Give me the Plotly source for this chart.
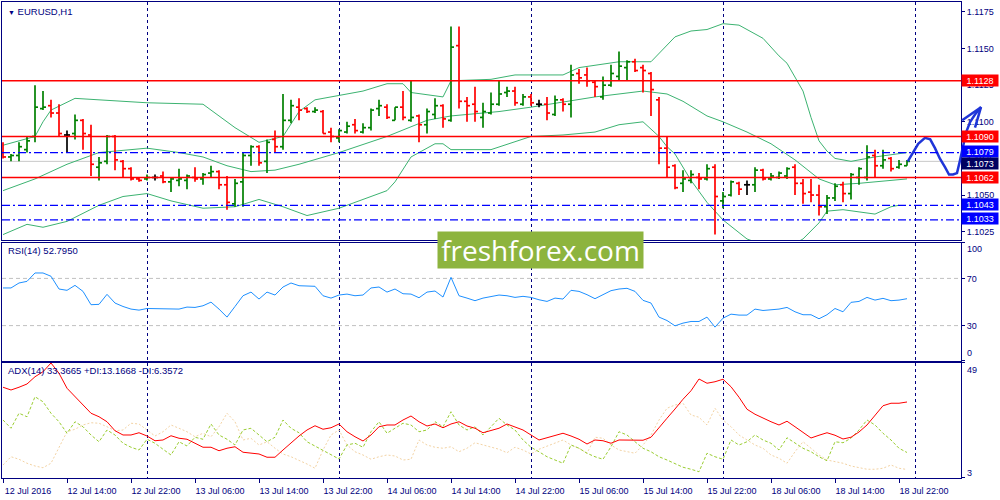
import plotly.graph_objects as go

# -----------------------------
# EURUSD H1 bars (index 0 = 12 Jul 2016 06:00)
# -----------------------------
opens = [1.1079, 1.1076, 1.1077, 1.1081, 1.1090, 1.1109, 1.1111, 1.1106, 1.1091, 1.1092,
         1.1101, 1.1091, 1.1069, 1.1073, 1.1090, 1.1073, 1.1068, 1.1061, 1.1061, 1.1062,
         1.1063, 1.1059, 1.1060, 1.1060, 1.1062, 1.1061, 1.1065, 1.1066, 1.1057, 1.1044,
         1.1059, 1.1077, 1.1083, 1.1073, 1.1088, 1.1083, 1.1101, 1.1110, 1.1109, 1.1107,
         1.1107, 1.1093, 1.1089, 1.1093, 1.1098, 1.1093, 1.1096, 1.1109, 1.1110, 1.1101,
         1.1110, 1.1101, 1.1104, 1.1098, 1.1105, 1.1111, 1.1101, 1.1152, 1.1114, 1.1112,
         1.1103, 1.1106, 1.1112, 1.1120, 1.1121, 1.1112, 1.1117, 1.1112, 1.1112, 1.1105,
         1.1115, 1.1112, 1.1133, 1.1132, 1.1127, 1.1117, 1.1125, 1.1131, 1.1137, 1.1141,
         1.1137, 1.1133, 1.1115, 1.1082, 1.1070, 1.1058, 1.1060, 1.1062, 1.1061, 1.1069,
         1.1046, 1.1050, 1.1058, 1.1057, 1.1057, 1.1067, 1.1061, 1.1062, 1.1063, 1.1069,
         1.1058, 1.1052, 1.1050, 1.1042, 1.1048, 1.1057, 1.1051, 1.1062, 1.1062, 1.1077,
         1.1070, 1.1075, 1.1069, 1.1070]
highs = [1.1086, 1.1078, 1.1086, 1.1090, 1.1125, 1.1121, 1.1115, 1.1112, 1.1094, 1.1105,
         1.1102, 1.1098, 1.1076, 1.1091, 1.1091, 1.1074, 1.1069, 1.1062, 1.1064, 1.1064,
         1.1066, 1.1062, 1.1068, 1.1064, 1.1069, 1.1065, 1.1070, 1.1067, 1.1063, 1.1061,
         1.1079, 1.1084, 1.1084, 1.1088, 1.1094, 1.1119, 1.1115, 1.1116, 1.1110, 1.1110,
         1.1108, 1.1096, 1.1095, 1.1100, 1.1102, 1.1099, 1.1109, 1.1115, 1.1112, 1.1110,
         1.1121, 1.1128, 1.1105, 1.1109, 1.1116, 1.1112, 1.1165, 1.1165, 1.1117, 1.1124,
         1.1113, 1.1120, 1.1128, 1.1124, 1.1124, 1.1119, 1.1119, 1.1115, 1.1117, 1.1118,
         1.1116, 1.1139, 1.1136, 1.1137, 1.1128, 1.1131, 1.1139, 1.1148, 1.1142, 1.1143,
         1.1139, 1.1134, 1.1117, 1.1090, 1.1071, 1.1067, 1.1067, 1.1065, 1.1071, 1.1071,
         1.1052, 1.1060, 1.1059, 1.1060, 1.1069, 1.1068, 1.1065, 1.1066, 1.1069, 1.1071,
         1.1061, 1.1061, 1.1057, 1.1050, 1.1058, 1.1059, 1.1065, 1.1069, 1.1084, 1.1081,
         1.1081, 1.1076, 1.1074, 1.1074]
lows = [1.1075, 1.1073, 1.1073, 1.1079, 1.1086, 1.1108, 1.1103, 1.1090, 1.1079, 1.1088,
        1.1081, 1.1063, 1.1060, 1.1071, 1.1067, 1.1062, 1.1060, 1.1059, 1.1060, 1.1060,
        1.1058, 1.1052, 1.1056, 1.1054, 1.1059, 1.1057, 1.1062, 1.1054, 1.1040, 1.1042,
        1.1042, 1.1070, 1.1070, 1.1065, 1.1079, 1.1081, 1.1099, 1.1101, 1.1106, 1.1106,
        1.1092, 1.1086, 1.1086, 1.1092, 1.1092, 1.1092, 1.1094, 1.1104, 1.1102, 1.1101,
        1.1101, 1.1100, 1.1086, 1.1092, 1.1102, 1.1096, 1.1100, 1.1109, 1.1100, 1.1100,
        1.1096, 1.1105, 1.1111, 1.1117, 1.1111, 1.1111, 1.1111, 1.1110, 1.1101, 1.1104,
        1.1107, 1.1103, 1.1126, 1.1124, 1.1117, 1.1115, 1.1124, 1.1128, 1.1128, 1.1134,
        1.1120, 1.1104, 1.1071, 1.1062, 1.1054, 1.1052, 1.1058, 1.1054, 1.1060, 1.1023,
        1.1041, 1.1049, 1.1050, 1.1050, 1.1052, 1.1060, 1.1060, 1.1061, 1.1061, 1.1050,
        1.1044, 1.1045, 1.1036, 1.1037, 1.1046, 1.1045, 1.1047, 1.1057, 1.1060, 1.1062,
        1.1068, 1.1066, 1.1068, 1.1070]
closes = [1.1076, 1.1077, 1.1083, 1.1087, 1.1110, 1.1110, 1.1106, 1.1092, 1.1091, 1.1101,
          1.1092, 1.1071, 1.1072, 1.1090, 1.1074, 1.1068, 1.1061, 1.1060, 1.1062, 1.1062,
          1.1059, 1.1061, 1.1061, 1.1063, 1.1061, 1.1064, 1.1066, 1.1057, 1.1045, 1.1058,
          1.1077, 1.1083, 1.1072, 1.1086, 1.1083, 1.1101, 1.1111, 1.1108, 1.1107, 1.1108,
          1.1092, 1.1090, 1.1094, 1.1097, 1.1094, 1.1096, 1.1108, 1.1111, 1.1103, 1.1110,
          1.1103, 1.1103, 1.1098, 1.1107, 1.1111, 1.1102, 1.1151, 1.1114, 1.1111, 1.1107,
          1.1107, 1.1112, 1.1119, 1.1121, 1.1113, 1.1117, 1.1113, 1.1112, 1.1106, 1.1115,
          1.1112, 1.1132, 1.1130, 1.1128, 1.1124, 1.1125, 1.1133, 1.1138, 1.1141, 1.1135,
          1.1135, 1.1122, 1.1082, 1.1069, 1.1055, 1.1061, 1.1064, 1.1061, 1.1068, 1.1049,
          1.1049, 1.1059, 1.1054, 1.1057, 1.1067, 1.1061, 1.1063, 1.1065, 1.1068, 1.1058,
          1.1051, 1.1050, 1.1042, 1.1048, 1.1056, 1.1051, 1.1064, 1.1068, 1.1076, 1.1070,
          1.1074, 1.1068, 1.1071, 1.1073]

# Bollinger bands (20), sampled along the picture
bb_up_x = [0, 4, 5, 6, 9, 12, 18, 25, 27, 29, 32, 35, 37, 39, 42, 45, 48, 50, 51, 55, 56,
           61, 64, 70, 72, 77, 81, 83, 84, 86, 88, 90, 92, 95, 97, 98, 100, 101, 102, 103,
           104, 106, 109, 113]
bb_up = [1.1084, 1.1090, 1.1100, 1.1108, 1.1116, 1.1115, 1.1113, 1.1112, 1.1104, 1.1096,
         1.1086, 1.1090, 1.1107, 1.1115, 1.1118, 1.1121, 1.1126, 1.1126, 1.1120, 1.1117,
         1.1128, 1.1129, 1.1132, 1.1132, 1.1137, 1.1141, 1.1141, 1.1152, 1.1158, 1.1162,
         1.1163, 1.1167, 1.1166, 1.1157, 1.1145, 1.1140, 1.1121, 1.1103, 1.1087, 1.1080,
         1.1075, 1.1073, 1.1076, 1.1079]
bb_mid_x = [0, 4, 8, 12, 18, 22, 25, 28, 31, 34, 37, 42, 48, 53, 56, 62, 66, 74, 80, 83,
            85, 88, 90, 93, 96, 99, 102, 104, 107, 113]
bb_mid = [1.1053, 1.1061, 1.1071, 1.1079, 1.1082, 1.1079, 1.1076, 1.1070, 1.1066, 1.1067,
          1.1071, 1.1079, 1.1090, 1.1101, 1.1104, 1.1107, 1.1110, 1.1117, 1.1121, 1.1119,
          1.1114, 1.1104, 1.1100, 1.1093, 1.1085, 1.1074, 1.1061, 1.1057, 1.1058, 1.1061]
bb_low_x = [0, 3, 5, 8, 12, 15, 18, 21, 25, 29, 32, 35, 38, 42, 48, 49, 51, 54, 55, 56,
            61, 66, 70, 74, 77, 80, 82, 83, 84, 86, 88, 90, 93, 95, 97, 99, 100, 102, 103,
            105, 109, 111, 112]
bb_low = [1.1023, 1.1030, 1.1028, 1.1032, 1.1043, 1.1049, 1.1051, 1.1046, 1.1041, 1.1042,
          1.1047, 1.1042, 1.1036, 1.1041, 1.1053, 1.1059, 1.1076, 1.1085, 1.1085, 1.1081,
          1.1081, 1.1090, 1.1091, 1.1093, 1.1098, 1.1100, 1.1090, 1.1083, 1.1078, 1.1060,
          1.1045, 1.1033, 1.1020, 1.1016, 1.1015, 1.1017, 1.1020, 1.1031, 1.1039, 1.1040,
          1.1037, 1.1042, 1.1043]

rsi = [61.9, 61.9, 66.1, 67.5, 74.6, 74.6, 71.8, 61.0, 59.9, 64.1,
       59.0, 47.7, 48.0, 56.5, 49.1, 46.2, 44.0, 43.1, 44.5, 44.5,
       44.0, 44.0, 44.0, 45.7, 45.4, 46.8, 49.9, 44.0, 37.2, 46.2,
       55.3, 58.4, 52.5, 58.4, 55.9, 62.7, 66.1, 63.8, 63.3, 63.3,
       55.3, 53.3, 55.9, 56.7, 55.3, 55.9, 61.9, 62.7, 58.4, 61.0,
       57.0, 56.7, 53.6, 58.4, 59.3, 54.2, 70.9, 55.3, 53.3, 51.1,
       53.3, 54.8, 55.9, 55.3, 53.9, 54.8, 53.9, 51.9, 50.5, 53.3,
       52.5, 59.9, 59.0, 56.2, 52.8, 56.2, 59.6, 61.0, 61.6, 59.0,
       51.4, 49.1, 37.2, 34.3, 29.8, 32.1, 33.5, 33.5, 37.2, 28.7,
       36.3, 39.7, 38.9, 38.9, 44.0, 42.8, 43.4, 44.0, 45.4, 41.7,
       39.2, 39.2, 35.8, 39.2, 44.5, 41.7, 49.7, 50.5, 53.9, 51.6,
       53.1, 51.1, 51.6, 52.8]

adx = [39.3, 38.2, 39.3, 40.6, 43.5, 45.5, 49.0, 44.9, 38.9, 35.5,
       32.2, 28.9, 27.5, 25.5, 21.9, 20.2, 20.2, 21.1, 19.8, 17.9,
       18.2, 19.9, 18.9, 18.5, 16.9, 15.3, 15.3, 13.9, 14.9, 15.5,
       13.3, 12.9, 12.6, 11.3, 11.3, 14.2, 17.1, 19.8, 22.2, 23.9,
       22.5, 23.1, 24.6, 21.5, 19.5, 17.8, 20.2, 23.5, 24.2, 24.2,
       26.2, 27.8, 25.5, 23.8, 24.6, 23.1, 24.6, 25.5, 23.8, 22.9,
       21.1, 21.9, 22.9, 24.6, 23.5, 22.2, 20.2, 18.2, 19.1, 20.1,
       20.9, 19.8, 18.5, 16.6, 18.2, 17.9, 16.9, 18.2, 18.2, 18.2,
       18.1, 19.3, 22.9, 26.9, 30.6, 34.5, 37.9, 42.6, 40.9, 41.5,
       42.5, 39.5, 35.3, 30.5, 28.5, 26.9, 25.5, 24.2, 25.7, 23.5,
       21.1, 19.0, 20.1, 21.1, 20.1, 18.6, 19.3, 21.4, 24.2, 28.2,
       31.9, 32.9, 32.9, 33.4]
plus_di = [26.2, 22.9, 28.9, 27.5, 35.5, 33.5, 28.9, 25.5, 20.9, 25.5,
           23.5, 20.2, 17.5, 22.2, 20.2, 16.9, 15.3, 14.2, 18.5, 16.9,
           14.5, 12.2, 17.5, 15.8, 19.3, 18.5, 24.6, 20.2, 18.5, 16.2,
           22.2, 22.9, 20.2, 17.5, 19.3, 26.2, 22.9, 21.1, 17.5, 15.8,
           14.2, 12.6, 10.6, 16.2, 16.9, 15.3, 21.5, 25.5, 20.9, 22.9,
           24.9, 24.2, 21.5, 22.2, 25.5, 23.5, 29.5, 24.2, 22.2, 23.5,
           20.2, 23.5, 26.9, 24.2, 22.2, 18.2, 15.3, 13.5, 11.5, 10.2,
           8.9, 16.2, 14.9, 12.9, 11.5, 10.5, 15.5, 21.5, 20.2, 17.5,
           14.9, 13.5, 11.5, 10.2, 8.9, 7.3, 6.5, 5.5, 12.9, 11.5,
           10.5, 18.2, 16.2, 17.5, 20.2, 18.2, 16.9, 14.2, 19.1, 16.9,
           14.9, 13.5, 11.5, 9.9, 17.5, 17.1, 18.9, 22.2, 26.2, 24.2,
           20.9, 18.2, 14.9, 13.2]
minus_di = [8.2, 11.5, 10.5, 8.9, 7.8, 7.1, 8.9, 15.5, 21.5, 22.5,
            24.2, 25.1, 24.9, 23.5, 21.9, 22.2, 24.9, 24.6, 22.2, 19.8,
            21.5, 24.2, 22.9, 21.5, 19.5, 20.9, 19.5, 23.5, 28.9, 25.5,
            18.2, 18.9, 16.2, 17.5, 14.9, 12.6, 11.5, 10.2, 8.6, 6.9,
            14.2, 20.2, 22.2, 16.2, 13.5, 12.2, 10.5, 11.5, 12.2, 11.8,
            10.2, 10.5, 18.2, 16.2, 15.3, 14.9, 15.5, 13.5, 14.9, 17.1,
            16.2, 15.5, 14.5, 13.1, 15.3, 14.2, 12.6, 14.5, 15.8, 16.9,
            18.2, 16.2, 14.9, 12.9, 19.3, 18.9, 16.2, 14.2, 13.5, 12.9,
            16.2, 20.2, 26.2, 30.9, 32.2, 32.9, 28.2, 27.3, 24.2, 30.9,
            26.2, 23.5, 20.2, 18.2, 16.2, 14.9, 12.2, 10.9, 8.9, 13.5,
            17.5, 14.9, 12.2, 10.2, 9.5, 8.9, 7.8, 7.3, 6.5, 6.5,
            6.9, 8.2, 6.9, 6.4]

# levels drawn by the analyst
red_levels = [1.1128, 1.1090, 1.1062]
blue_levels = [1.1079, 1.1043, 1.1033]
last_price = 1.1073

# hand drawn forecast (bar index, price)
forecast_x = [113.1, 113.75, 114.4, 115.25, 115.9, 116.5, 117.1, 117.75, 118.25, 118.75,
              119.25, 119.6, 120.0, 120.4, 120.9, 121.5, 122.25]
forecast_y = [1.1073, 1.1079, 1.1085, 1.1089, 1.1088, 1.1082, 1.1075, 1.1069, 1.1064, 1.1064,
              1.1065, 1.1073, 1.1084, 1.1093, 1.1100, 1.1105, 1.1110]
arrow_x = [119.9, 122.25, 121.5]
arrow_y = [1.1101, 1.1110, 1.1096]

time_labels = ['12 Jul 2016', '12 Jul 14:00', '12 Jul 22:00', '13 Jul 06:00', '13 Jul 14:00',
               '13 Jul 22:00', '14 Jul 06:00', '14 Jul 14:00', '14 Jul 22:00', '15 Jul 06:00',
               '15 Jul 14:00', '15 Jul 22:00', '18 Jul 06:00', '18 Jul 14:00', '18 Jul 22:00']
time_ticks = list(range(0, 8 * len(time_labels), 8))
day_lines = [18, 42, 66, 90, 114]
price_ticks = [1.1025, 1.1050, 1.1075, 1.1100, 1.1125, 1.1150, 1.1175]

NAVY = '#000080'
FONT = 'Liberation Sans, Arial, sans-serif'
XR = [-0.125, 119.75]
X_DOM = 959 / 998
Y_MAIN = [1.10193, 1.11818]


def bar_segments(idx):
    xs, ys = [], []
    for i in idx:
        xs += [i, i, None, i - 0.375, i, None, i, i + 0.375, None]
        ys += [lows[i], highs[i], None, opens[i], opens[i], None, closes[i], closes[i], None]
    return xs, ys


n = len(closes)
up = [i for i in range(n) if closes[i] > opens[i]]
down = [i for i in range(n) if closes[i] < opens[i]]
flat = [i for i in range(n) if closes[i] == opens[i]]

fig = go.Figure()

# bands
for bx, by in [(bb_up_x, bb_up), (bb_mid_x, bb_mid), (bb_low_x, bb_low)]:
    fig.add_trace(go.Scatter(x=bx, y=by, mode='lines', line=dict(color='#3cb371', width=1),
                             xaxis='x', yaxis='y', hoverinfo='skip'))

for idx, col in [(up, '#008000'), (down, '#ff0000'), (flat, '#000000')]:
    xs, ys = bar_segments(idx)
    fig.add_trace(go.Scatter(x=xs, y=ys, mode='lines', line=dict(color=col, width=1.7),
                             xaxis='x', yaxis='y', hoverinfo='skip'))

bars_x = list(range(n))
fig.add_trace(go.Scatter(x=bars_x, y=rsi, mode='lines', line=dict(color='#1e90ff', width=1),
                         xaxis='x2', yaxis='y2'))
fig.add_trace(go.Scatter(x=bars_x, y=minus_di, mode='lines',
                         line=dict(color='#f3d3a4', width=1, dash='2px,2px'), xaxis='x3', yaxis='y3'))
fig.add_trace(go.Scatter(x=bars_x, y=plus_di, mode='lines',
                         line=dict(color='#9acd32', width=1, dash='3px,2px'), xaxis='x3', yaxis='y3'))
fig.add_trace(go.Scatter(x=bars_x, y=adx, mode='lines', line=dict(color='#ff0000', width=1),
                         xaxis='x3', yaxis='y3'))

# forecast on an overlay axis that reaches over the price scale
fig.add_trace(go.Scatter(x=forecast_x, y=forecast_y, mode='lines', line=dict(color='#1f35d8', width=2.5),
                         xaxis='x4', yaxis='y4'))
fig.add_trace(go.Scatter(x=arrow_x, y=arrow_y, mode='lines', line=dict(color='#1f35d8', width=2.5),
                         xaxis='x4', yaxis='y4'))

xbase = dict(range=XR, domain=[0, X_DOM], showline=True, mirror=True, linecolor=NAVY, linewidth=1,
             showgrid=False, zeroline=False,
             minor=dict(tickmode='array', tickvals=day_lines, showgrid=True, gridcolor=NAVY,
                        griddash='3px,3px', gridwidth=1))
ybase = dict(side='right', showline=True, mirror=True, linecolor=NAVY, linewidth=1, showgrid=False,
             zeroline=False, ticks='outside', ticklen=3, tickcolor=NAVY,
             tickfont=dict(family=FONT, size=9, color=NAVY))

fig.update_layout(
    width=1000, height=500, margin=dict(l=2, r=0, t=2, b=22),
    paper_bgcolor='white', plot_bgcolor='rgba(0,0,0,0)', showlegend=False, hovermode=False,
    font=dict(family=FONT, size=9, color=NAVY),
    xaxis=dict(xbase, anchor='y', showticklabels=False, ticks=''),
    xaxis2=dict(xbase, anchor='y2', showticklabels=False, ticks=''),
    xaxis3=dict(xbase, anchor='y3', tickmode='array', tickvals=time_ticks, ticktext=time_labels,
                ticks='outside', ticklen=4, tickcolor=NAVY, ticklabelshift=25,
                tickfont=dict(family=FONT, size=9, color=NAVY)),
    yaxis=dict(ybase, anchor='x', domain=[0.5, 1], range=Y_MAIN, tickmode='array',
               tickvals=price_ticks, tickformat='.4f'),
    yaxis2=dict(ybase, anchor='x2', domain=[0.2458, 0.4937], range=[0, 100], tickmode='array',
                tickvals=[0, 30, 70, 100], ticktext=['', '30', '70', '']),
    yaxis3=dict(ybase, anchor='x3', domain=[0, 0.2416], range=[3, 49], tickmode='array',
                tickvals=[3, 49], ticktext=['', '']),
    xaxis4=dict(domain=[0, 1], anchor='y4', visible=False,
                range=[XR[0], XR[0] + (XR[1] - XR[0]) / X_DOM]),
    yaxis4=dict(domain=[0.5, 1], anchor='x4', visible=False, range=Y_MAIN),
)

shapes = []
for lv in red_levels:
    shapes.append(dict(type='line', xref='x domain', x0=0, x1=1, yref='y', y0=lv, y1=lv,
                       line=dict(color='#ff0000', width=1.5), layer='above'))
for lv in blue_levels:
    shapes.append(dict(type='line', xref='x domain', x0=0, x1=1, yref='y', y0=lv, y1=lv,
                       line=dict(color='#0000ff', width=1.3, dash='8px,3px,2px,3px'), layer='above'))
shapes.append(dict(type='line', xref='x domain', x0=0, x1=1, yref='y', y0=last_price, y1=last_price,
                   line=dict(color='#c8c8c8', width=1), layer='below'))
for lv in [30, 70]:
    shapes.append(dict(type='line', xref='x2 domain', x0=0, x1=1, yref='y2', y0=lv, y1=lv,
                       line=dict(color='#c0c0c0', width=1, dash='4px,3px'), layer='below'))
fig.update_layout(shapes=shapes)

ann = []
# price label boxes on the scale (the last-price box sits just under its neighbour)
boxes = [(v, '#ff0000', 0) for v in red_levels] + [(v, '#0000ff', 1) for v in blue_levels]
boxes.append((last_price, '#000060', -2))
for lv, bg, dy in boxes:
    ann.append(dict(xref='paper', x=X_DOM, xanchor='left', yref='y', y=lv, yshift=dy,
                    text=f'{lv:.4f}', showarrow=False, bgcolor=bg,
                    font=dict(family=FONT, size=9, color='white'),
                    width=35, height=10, borderpad=0.5))
# scale end labels kept inside their panels, as the terminal does
for txt, yref, yv, shift in [('100', 'y2', 100, -6), ('0', 'y2', 0, 8), ('49', 'y3', 49, -7), ('3', 'y3', 3, 5)]:
    ann.append(dict(xref='paper', x=X_DOM, xanchor='left', xshift=4, yref=yref, y=yv, yshift=shift,
                    text=txt, showarrow=False, font=dict(family=FONT, size=9, color=NAVY)))
# panel captions
ann.append(dict(xref='paper', x=0.004, xanchor='left', yref='paper', y=0.981, yanchor='middle',
                text='<span style="font-size:7px">▼</span> EURUSD,H1', showarrow=False,
                font=dict(family=FONT, size=9.5, color=NAVY)))
ann.append(dict(xref='paper', x=0.004, xanchor='left', yref='paper', y=0.477, yanchor='middle',
                text='RSI(14) 52.7950', showarrow=False, font=dict(family=FONT, size=9.5, color=NAVY)))
ann.append(dict(xref='paper', x=0.004, xanchor='left', yref='paper', y=0.2248, yanchor='middle',
                text='ADX(14) 33.3665 +DI:13.1668 -DI:6.3572', showarrow=False,
                font=dict(family=FONT, size=9.5, color=NAVY)))
# watermark
ann.append(dict(xref='paper', x=(540.5 - 2) / 998, xanchor='center', yref='paper', y=0.479,
                yanchor='middle', text='freshforex.com', showarrow=False, bgcolor='#8db43e',
                width=205, height=36, borderpad=0,
                font=dict(family='Open Sans, sans-serif', size=28, color='white')))
fig.update_layout(annotations=ann)

# page body has an 8px default margin; drop it so the chart sits at the window corner
fig.write_html('out.html', config={'displayModeBar': False},
               post_script="document.body.style.margin='0';")
